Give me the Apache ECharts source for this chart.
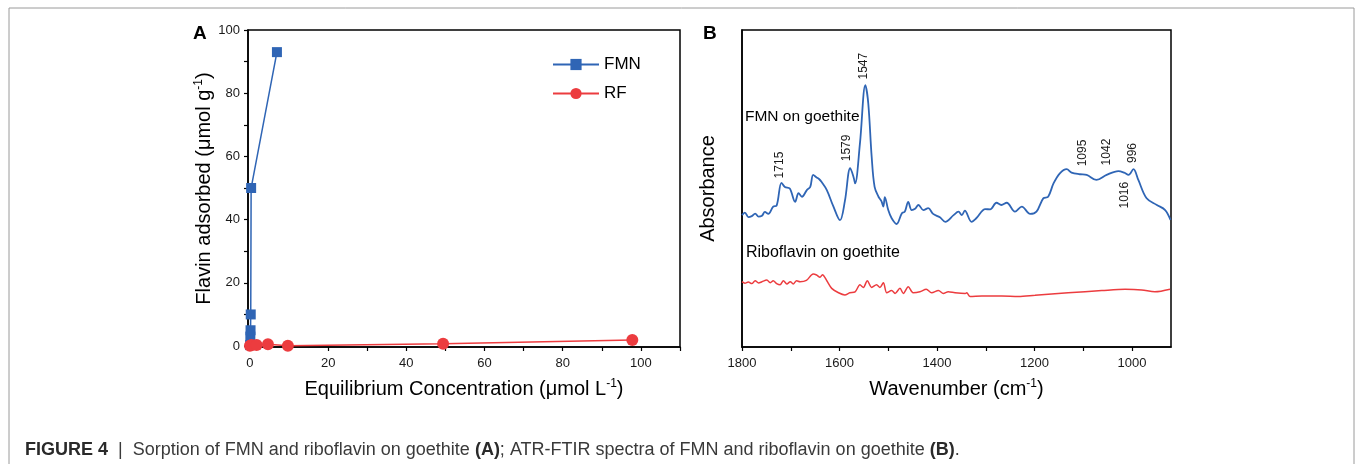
<!DOCTYPE html>
<html>
<head>
<meta charset="utf-8">
<script src="https://cdn.jsdelivr.net/npm/echarts@6/dist/echarts.min.js"></script>
<style>
  html, body { margin: 0; padding: 0; background: #fff; }
  #main { width: 1357px; height: 464px; }
</style>
</head>
<body>
<div id="main"></div>
<script>
// Panel A: sorption isotherms
var fmnConc = [0.05, 0.1, 0.15, 0.2, 0.3, 6.9];
var fmnAds = [0.3, 3, 5, 10, 50, 93];
var rfConc = [0, 0.4, 1.7, 4.6, 9.7, 49.4, 97.8];
var rfAds = [0.1, 0.3, 0.3, 0.6, 0.1, 0.7, 1.9];

// Panel B: ATR-FTIR spectra (absorbance, arbitrary units)
var fmnWave = [1800, 1794, 1787, 1780, 1773, 1766, 1759, 1753, 1746, 1736, 1729, 1719, 1712, 1702, 1691, 1684, 1677,
  1667, 1660, 1654, 1647, 1642, 1637, 1626, 1613, 1599, 1589, 1578, 1571, 1568, 1558, 1547, 1541, 1534, 1528, 1520,
  1514, 1510, 1507, 1500, 1493, 1483, 1472, 1466, 1459, 1452, 1445, 1438, 1428, 1418, 1408, 1394, 1383, 1366, 1356,
  1349, 1343, 1329, 1319, 1301, 1291, 1278, 1268, 1257, 1240, 1226, 1209, 1196, 1182, 1172, 1161, 1148, 1134, 1124,
  1107, 1093, 1073, 1052, 1028, 1016, 1007, 997, 987, 970, 949, 932, 921];
var fmnAbs = [0.416, 0.424, 0.410, 0.413, 0.421, 0.411, 0.414, 0.426, 0.420, 0.443, 0.446, 0.518, 0.505, 0.500, 0.458,
  0.485, 0.474, 0.495, 0.505, 0.543, 0.535, 0.530, 0.521, 0.495, 0.445, 0.400, 0.460, 0.564, 0.535, 0.516, 0.643,
  0.826, 0.769, 0.600, 0.505, 0.474, 0.460, 0.443, 0.473, 0.432, 0.406, 0.388, 0.422, 0.427, 0.458, 0.432, 0.436,
  0.448, 0.432, 0.438, 0.420, 0.409, 0.395, 0.416, 0.427, 0.416, 0.430, 0.395, 0.407, 0.435, 0.434, 0.455, 0.448,
  0.455, 0.427, 0.443, 0.420, 0.427, 0.469, 0.474, 0.516, 0.548, 0.561, 0.550, 0.545, 0.543, 0.527, 0.543, 0.555,
  0.550, 0.543, 0.561, 0.527, 0.469, 0.448, 0.432, 0.401];

var rfWave = [1800, 1794, 1787, 1780, 1773, 1766, 1759, 1749, 1742, 1736, 1729, 1722, 1715, 1708, 1701, 1695, 1688,
  1681, 1668, 1654, 1647, 1640, 1635, 1626, 1616, 1602, 1589, 1579, 1568, 1558, 1551, 1543, 1534, 1524, 1517, 1510,
  1503, 1493, 1486, 1476, 1469, 1459, 1449, 1435, 1422, 1411, 1397, 1387, 1377, 1363, 1342, 1339, 1332, 1308, 1267,
  1233, 1199, 1131, 1062, 1014, 980, 953, 922];
var rfAbs = [0.206, 0.201, 0.205, 0.200, 0.209, 0.202, 0.206, 0.211, 0.203, 0.209, 0.200, 0.196, 0.209, 0.199, 0.206,
  0.199, 0.209, 0.206, 0.210, 0.230, 0.227, 0.220, 0.228, 0.209, 0.185, 0.171, 0.164, 0.171, 0.174, 0.196, 0.188,
  0.209, 0.188, 0.196, 0.188, 0.203, 0.171, 0.178, 0.169, 0.185, 0.169, 0.190, 0.171, 0.174, 0.182, 0.171, 0.178,
  0.169, 0.174, 0.171, 0.169, 0.171, 0.159, 0.161, 0.161, 0.159, 0.163, 0.171, 0.178, 0.182, 0.180, 0.174, 0.182];

// peak labels: [wavenumber label, x position, y position]
var peakLabels = [
  ['1715', 1722, 0.574], ['1579', 1585, 0.628], ['1547', 1550, 0.886],
  ['1095', 1101, 0.612], ['1042', 1051, 0.615], ['996', 998, 0.612], ['1016', 1016, 0.479]
];

var BLUE = '#2f65b5';
var RED = '#ec3c3f';
var FONT = 'Liberation Sans, Arial, sans-serif';

function zip(a, b) {
  return a.map(function (v, i) { return [v, b[i]]; });
}
function range(a, b, s) {
  var out = [];
  for (var v = a; v <= b; v += s) out.push(v);
  return out;
}
function plain(v) { return String(v); }

var chartDom = document.getElementById('main');
var myChart = echarts.init(chartDom);

var axisCommon = {
  axisLine: { show: true, onZero: false, lineStyle: { color: '#000', width: 1.5 } },
  axisTick: { show: true, inside: false, length: 4, lineStyle: { color: '#000', width: 1.2 } },
  axisLabel: { color: '#1a1a1a', fontSize: 13, fontFamily: FONT, formatter: plain },
  splitLine: { show: false },
  nameLocation: 'middle',
  nameTextStyle: {
    color: '#000', fontSize: 20, fontFamily: FONT,
    rich: { sup: { fontSize: 12, verticalAlign: 'top', padding: [0, 0, 11, 0], fontFamily: FONT, color: '#000' } }
  }
};

var option = {
  animation: false,
  backgroundColor: '#fff',
  textStyle: { fontFamily: FONT },
  grid: [
    { left: 248, top: 30, right: 677, bottom: 117, show: true, borderColor: '#000', borderWidth: 1.5 },
    { left: 742, top: 30, right: 186, bottom: 117, show: true, borderColor: '#000', borderWidth: 1.5 }
  ],
  legend: {
    data: ['FMN', 'RF'],
    orient: 'vertical',
    left: 547,
    top: 51,
    itemWidth: 46,
    itemHeight: 14,
    itemGap: 12,
    textStyle: { fontSize: 17, color: '#000', fontFamily: FONT }
  },
  xAxis: [
    Object.assign({}, axisCommon, {
      gridIndex: 0, type: 'value', min: -0.5, max: 110,
      name: 'Equilibrium Concentration (μmol L{sup|-1})', nameGap: 31,
      axisTick: Object.assign({}, axisCommon.axisTick, { customValues: range(0, 110, 10) }),
      axisLabel: Object.assign({}, axisCommon.axisLabel, { margin: 10, customValues: range(0, 100, 20) })
    }),
    Object.assign({}, axisCommon, {
      gridIndex: 1, type: 'value', min: 920, max: 1800, inverse: true,
      name: 'Wavenumber (cm{sup|-1})', nameGap: 31,
      axisTick: Object.assign({}, axisCommon.axisTick, { customValues: range(1000, 1800, 100) }),
      axisLabel: Object.assign({}, axisCommon.axisLabel, { margin: 10, customValues: range(1000, 1800, 200) })
    })
  ],
  yAxis: [
    Object.assign({}, axisCommon, {
      gridIndex: 0, type: 'value', min: -0.3, max: 100,
      name: 'Flavin adsorbed (μmol g{sup|-1})', nameGap: 32,
      axisTick: Object.assign({}, axisCommon.axisTick, { customValues: range(0, 100, 10) }),
      axisLabel: Object.assign({}, axisCommon.axisLabel, { margin: 8, customValues: range(0, 100, 20) })
    }),
    Object.assign({}, axisCommon, {
      gridIndex: 1, type: 'value', min: 0, max: 1,
      name: 'Absorbance', nameGap: 24,
      axisTick: { show: false },
      axisLabel: { show: false }
    })
  ],
  series: [
    {
      name: 'FMN', type: 'line', xAxisIndex: 0, yAxisIndex: 0,
      data: zip(fmnConc, fmnAds),
      symbol: 'rect', symbolSize: 10,
      itemStyle: { color: BLUE },
      lineStyle: { color: BLUE, width: 1.5 },
      clip: false, z: 3
    },
    {
      name: 'RF', type: 'line', xAxisIndex: 0, yAxisIndex: 0,
      data: zip(rfConc, rfAds),
      symbol: 'circle', symbolSize: 12,
      itemStyle: { color: RED },
      lineStyle: { color: RED, width: 1.5 },
      clip: false, z: 4
    },
    {
      name: 'FMN on goethite', type: 'line', xAxisIndex: 1, yAxisIndex: 1,
      data: zip(fmnWave, fmnAbs),
      showSymbol: false, smooth: 0.35,
      lineStyle: { color: BLUE, width: 1.8 },
      markPoint: {
        symbol: 'circle', symbolSize: 0, silent: true,
        label: { show: true, rotate: 90, formatter: '{b}', color: '#1a1a1a', fontSize: 12, fontFamily: FONT, position: 'inside' },
        data: peakLabels.map(function (p) { return { name: p[0], coord: [p[1], p[2]] }; })
          .concat([{
            name: 'FMN on goethite', coord: [1794, 0.726],
            label: { rotate: 0, fontSize: 15.5, position: 'right', distance: 0, color: '#000' }
          }])
      }
    },
    {
      name: 'Riboflavin on goethite', type: 'line', xAxisIndex: 1, yAxisIndex: 1,
      data: zip(rfWave, rfAbs),
      showSymbol: false, smooth: 0.3,
      lineStyle: { color: RED, width: 1.5 },
      markPoint: {
        symbol: 'circle', symbolSize: 0, silent: true,
        label: { show: true, formatter: '{b}', color: '#000', fontSize: 16, fontFamily: FONT, position: 'right', distance: 0 },
        data: [{ name: 'Riboflavin on goethite', coord: [1792, 0.297] }]
      }
    }
  ],
  graphic: [
    { type: 'rect', shape: { x: 9, y: 8, width: 1345, height: 470 }, style: { fill: 'none', stroke: '#9a9a9a', lineWidth: 1 }, silent: true },
    { type: 'text', left: 193, top: 24, style: { text: 'A', fontSize: 19, fontWeight: 'bold', fill: '#000', fontFamily: FONT } },
    { type: 'text', left: 703, top: 24, style: { text: 'B', fontSize: 19, fontWeight: 'bold', fill: '#000', fontFamily: FONT } },
    {
      type: 'text', left: 25, top: 441,
      style: {
        text: '{b|FIGURE 4}{n|  |  Sorption of FMN and riboflavin on goethite }{b|(A)}{n|; ATR-FTIR spectra of FMN and riboflavin on goethite }{b|(B)}{n|.}',
        rich: {
          b: { fontSize: 18, fontWeight: 'bold', fill: '#2a2a2a', fontFamily: FONT },
          n: { fontSize: 18, fill: '#3a3a3a', fontFamily: FONT }
        }
      }
    }
  ]
};

option && myChart.setOption(option);
</script>
</body>
</html>
